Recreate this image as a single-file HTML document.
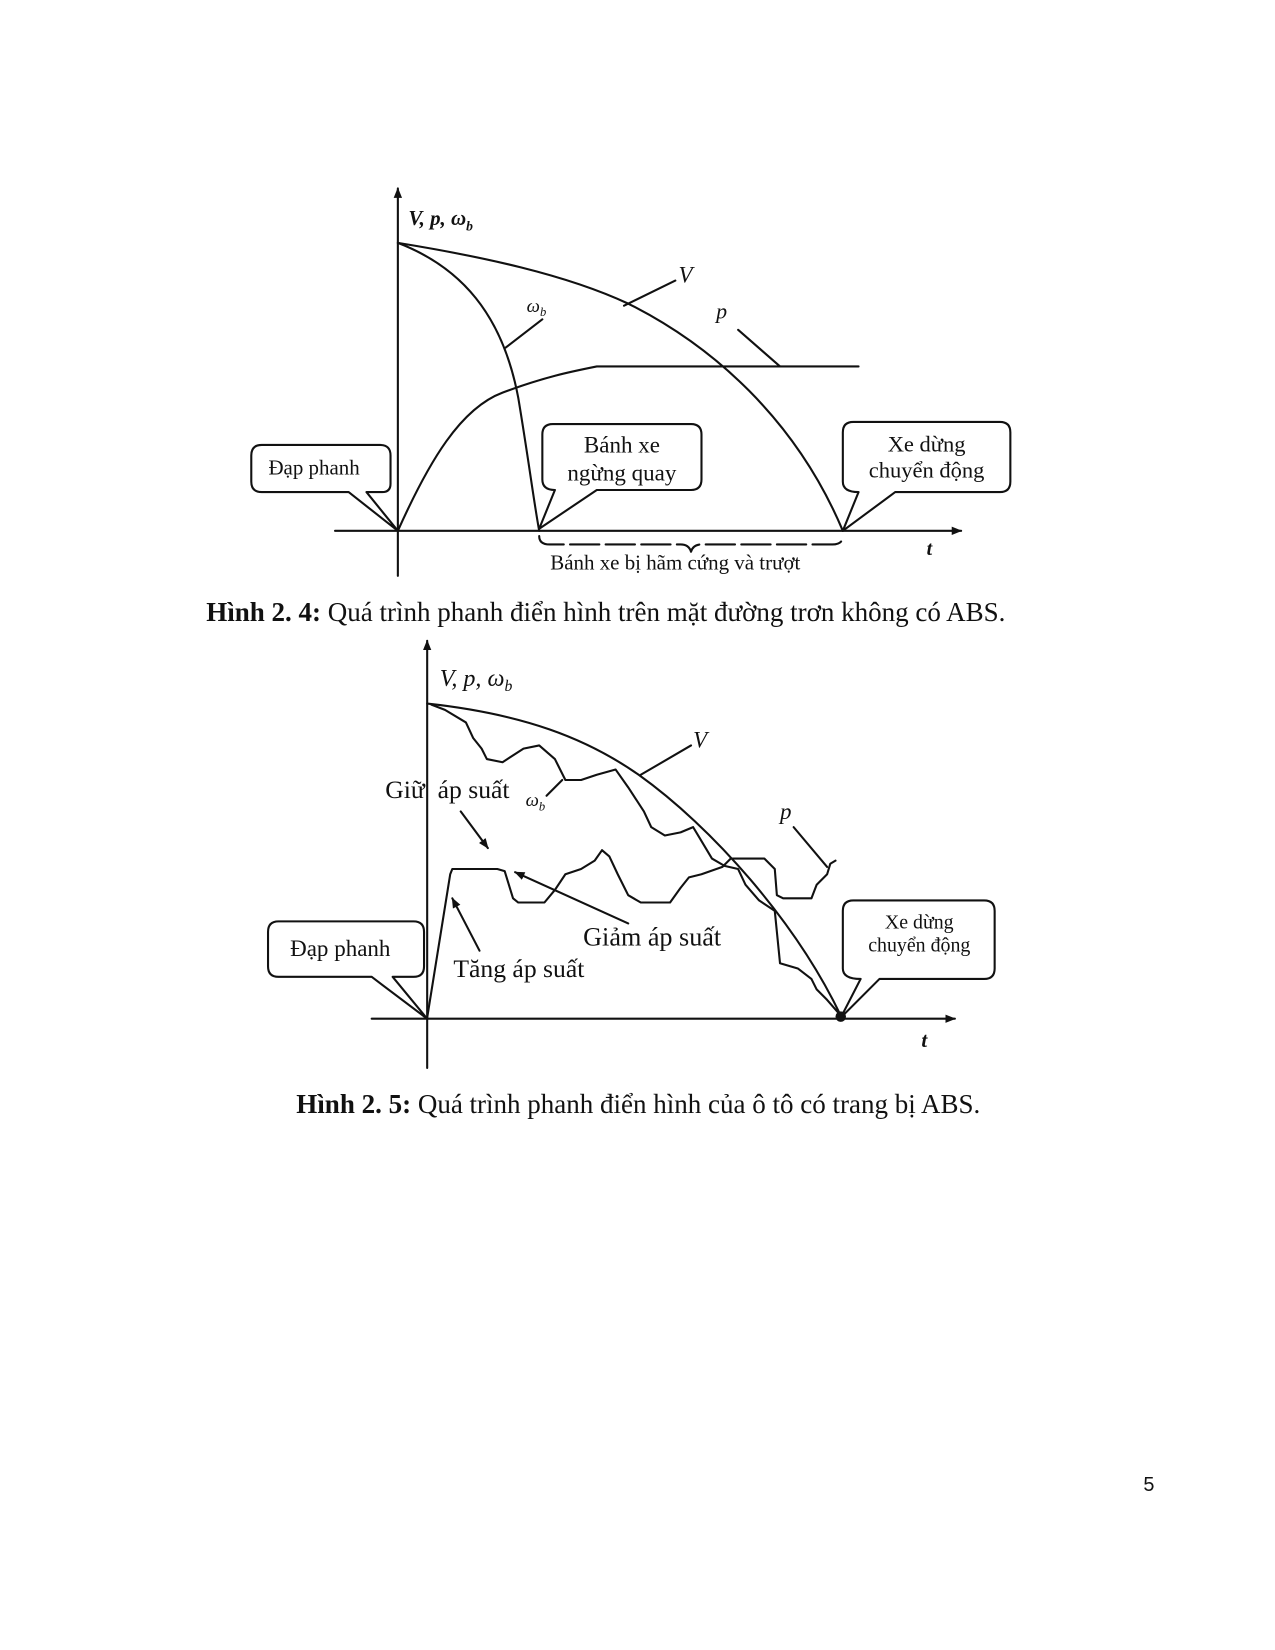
<!DOCTYPE html>
<html><head><meta charset="utf-8"><style>
html,body{margin:0;padding:0;background:#fff;}
svg{display:block;}
.s{fill:none;stroke:#111;stroke-width:2;stroke-linejoin:round;stroke-linecap:round;}
.t{font-family:"Liberation Serif",serif;fill:#111;}
</style></head><body>
<svg width="1275" height="1650" viewBox="0 0 1275 1650" xmlns="http://www.w3.org/2000/svg">
<defs><marker id="a" markerWidth="10" markerHeight="8" refX="9" refY="4" orient="auto" markerUnits="userSpaceOnUse"><path d="M0,0 L10,4 L0,8 z" fill="#111"/></marker></defs>
<g transform="scale(1.047)">
<!-- Figure 2.4 -->
<line class="s" x1="380" y1="550" x2="380" y2="180" marker-end="url(#a)"/>
<line class="s" x1="320" y1="507" x2="918" y2="507" marker-end="url(#a)"/>
<text class="t" x="390" y="215" font-size="20" font-style="italic" font-weight="bold">V, p, ω<tspan font-size="13" dy="5">b</tspan></text>
<path class="s" d="M380,232 C460,245 540,262 600,290 C680,330 760,400 805,507"/>
<path class="s" d="M380,232 C440,255 480,300 495,380 C505,440 510,480 515,507"/>
<path class="s" d="M380,507 C410,440 440,390 480,375 C520,360 545,355 570,350 L820,350"/>
<line class="s" x1="596" y1="292" x2="645" y2="268"/>
<text class="t" x="648" y="270" font-size="22" font-style="italic">V</text>
<line class="s" x1="483" y1="332" x2="518" y2="305"/>
<text class="t" x="503" y="298" font-size="18" font-style="italic">ω<tspan font-size="12" dy="4">b</tspan></text>
<line class="s" x1="705" y1="315" x2="745" y2="350"/>
<text class="t" x="684" y="304" font-size="21" font-style="italic">p</text>
<path class="s" d="M250,425 L363,425 Q373,425 373,435 L373,462 Q373,470 365,470 L350,470 L380,507 L333,470 L250,470 Q240,470 240,460 L240,435 Q240,425 250,425 Z"/>
<text class="t" x="300" y="453" font-size="20" text-anchor="middle">Đạp phanh</text>
<path class="s" d="M528,405 L660,405 Q670,405 670,415 L670,458 Q670,468 660,468 L570,468 L515,505 L530,468 Q518,468 518,458 L518,415 Q518,405 528,405 Z"/>
<text class="t" x="594" y="432" font-size="22" text-anchor="middle">Bánh xe</text>
<text class="t" x="594" y="459" font-size="22" text-anchor="middle">ngừng quay</text>
<path class="s" d="M815,403 L955,403 Q965,403 965,413 L965,460 Q965,470 955,470 L855,470 L805,507 L820,470 Q805,470 805,460 L805,413 Q805,403 815,403 Z"/>
<text class="t" x="885" y="431" font-size="21.5" text-anchor="middle">Xe dừng</text>
<text class="t" x="885" y="456" font-size="21.5" text-anchor="middle">chuyển động</text>
<path class="s" stroke-dasharray="28,6" d="M515,512 Q515,520 525,520 L650,520 Q658,520 660,527 Q662,520 670,520 L795,520 Q805,520 805,512"/>
<text class="t" x="645" y="544" font-size="20" text-anchor="middle">Bánh xe bị hãm cứng và trượt</text>
<text class="t" x="885" y="530" font-size="19" font-style="italic" font-weight="bold">t</text>
<text class="t" x="197" y="593" font-size="25.8"><tspan font-weight="bold">Hình 2. 4:</tspan> Quá trình phanh điển hình trên mặt đường trơn không có ABS.</text>

<!-- Figure 2.5 -->
<line class="s" x1="408" y1="1020" x2="408" y2="612" marker-end="url(#a)"/>
<line class="s" x1="355" y1="973" x2="912" y2="973" marker-end="url(#a)"/>
<text class="t" x="420" y="655" font-size="23" font-style="italic">V, p, ω<tspan font-size="15" dy="5">b</tspan></text>
<path class="s" d="M408,672 C500,682 560,705 610,740 C680,790 760,880 803,970"/>
<path class="s" d="M412,673 L425,678 L445,690 L452,705 L460,715 L465,725 L480,728 L500,715 L515,712 L530,725 L540,745 L555,745 L570,740 L588,735 L600,752 L615,775 L622,790 L635,798 L650,795 L662,790 L668,800 L680,820 L692,827 L705,830 L712,845 L725,860 L740,870 L742,890 L745,920 L762,925 L775,935 L780,945 L790,955 L803,970"/>
<path class="s" d="M408,972 L430,835 L432,830 L475,830 L482,832 L490,858 L495,862 L520,862 L530,850 L540,835 L555,830 L568,822 L575,812 L582,818 L590,835 L600,855 L612,862 L640,862 L650,848 L658,838 L670,835 L690,828 L698,820 L710,820 L730,820 L740,830 L742,855 L748,858 L775,858 L780,845 L790,835 L793,825 L798,822"/>
<line class="s" x1="612" y1="740" x2="660" y2="712"/>
<text class="t" x="662" y="714" font-size="22" font-style="italic">V</text>
<line class="s" x1="537" y1="745" x2="522" y2="760"/>
<text class="t" x="502" y="770" font-size="18" font-style="italic">ω<tspan font-size="12" dy="4">b</tspan></text>
<line class="s" x1="758" y1="790" x2="790" y2="828"/>
<text class="t" x="745" y="782" font-size="22" font-style="italic">p</text>
<text class="t" x="368" y="762" font-size="24.5">Giữ</text>
<text class="t" x="418" y="762" font-size="24.5">áp suất</text>
<line class="s" x1="440" y1="775" x2="466" y2="810" marker-end="url(#a)"/>
<text class="t" x="433" y="933" font-size="24.5">Tăng áp suất</text>
<line class="s" x1="458" y1="908" x2="432" y2="858" marker-end="url(#a)"/>
<text class="t" x="557" y="903" font-size="25">Giảm áp suất</text>
<line class="s" x1="600" y1="882" x2="492" y2="833" marker-end="url(#a)"/>
<path class="s" d="M266,880 L395,880 Q405,880 405,890 L405,923 Q405,933 395,933 L375,933 L408,973 L355,933 L266,933 Q256,933 256,923 L256,890 Q256,880 266,880 Z"/>
<text class="t" x="325" y="913" font-size="22" text-anchor="middle">Đạp phanh</text>
<path class="s" d="M815,860 L940,860 Q950,860 950,870 L950,925 Q950,935 940,935 L840,935 L803,972 L822,935 Q805,935 805,925 L805,870 Q805,860 815,860 Z"/>
<text class="t" x="878" y="887" font-size="19" text-anchor="middle">Xe dừng</text>
<text class="t" x="878" y="909" font-size="19" text-anchor="middle">chuyển động</text>
<circle cx="803" cy="971" r="5" fill="#111"/>
<text class="t" x="880" y="1000" font-size="20" font-style="italic" font-weight="bold">t</text>
<text class="t" x="283" y="1063" font-size="25.8"><tspan font-weight="bold">Hình 2. 5:</tspan> Quá trình phanh điển hình của ô tô có trang bị ABS.</text>

<text x="1092" y="1424" font-family="Liberation Sans, sans-serif" font-size="19" fill="#111">5</text>
</g>
</svg>
</body></html>
